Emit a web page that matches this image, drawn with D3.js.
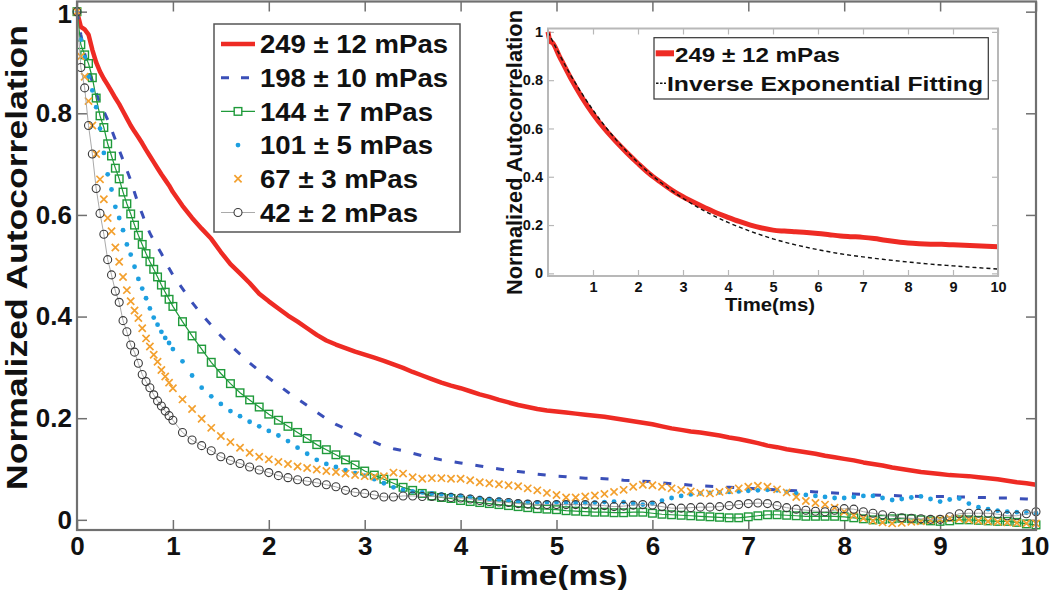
<!DOCTYPE html>
<html><head><meta charset="utf-8">
<script src="https://cdn.jsdelivr.net/npm/d3@7"></script>
<style>
body{margin:0;background:#fff}
svg{display:block}
text{font-family:"Liberation Sans",Arial,Helvetica,sans-serif;font-weight:bold;fill:#111}
</style>
</head><body>
<svg id="c" width="1050" height="590"></svg>
<script>
// ---------- DATA ----------
const time = [0,0.04,0.08,0.12,0.16,0.2,0.24,0.28,0.32,0.36,0.4,0.44,0.48,0.52,0.56,0.6,0.64,0.68,0.72,0.76,0.8,0.84,0.88,0.92,0.96,1.0,
1.1,1.2,1.3,1.4,1.5,1.6,1.7,1.8,1.9,2.0,
2.1,2.2,2.3,2.4,2.5,2.6,2.7,2.8,2.9,3.0,
3.1,3.2,3.3,3.4,3.5,3.6,3.7,3.8,3.9,4.0,
4.1,4.2,4.3,4.4,4.5,4.6,4.7,4.8,4.9,5.0,
5.1,5.2,5.3,5.4,5.5,5.6,5.7,5.8,5.9,6.0,
6.1,6.2,6.3,6.4,6.5,6.6,6.7,6.8,6.9,7.0,
7.1,7.2,7.3,7.4,7.5,7.6,7.7,7.8,7.9,8.0,
8.1,8.2,8.3,8.4,8.5,8.6,8.7,8.8,8.9,9.0,
9.1,9.2,9.3,9.4,9.5,9.6,9.7,9.8,9.9,10.0];

const v249 = [1.000,0.970,0.965,0.955,0.925,0.900,0.882,0.868,0.856,0.843,0.830,0.818,0.804,0.790,0.776,0.764,0.753,0.741,0.728,0.716,0.704,0.692,0.680,0.669,0.658,0.645,
0.618,0.594,0.573,0.553,0.527,0.503,0.485,0.466,0.445,0.430,
0.416,0.402,0.390,0.377,0.364,0.353,0.345,0.338,0.331,0.325,
0.319,0.313,0.306,0.299,0.291,0.284,0.277,0.270,0.264,0.259,
0.253,0.247,0.242,0.236,0.231,0.226,0.222,0.218,0.215,0.213,
0.211,0.209,0.207,0.205,0.203,0.200,0.197,0.194,0.191,0.188,
0.184,0.180,0.177,0.174,0.172,0.169,0.166,0.162,0.159,0.155,
0.151,0.146,0.143,0.139,0.136,0.133,0.130,0.126,0.123,0.120,
0.117,0.113,0.110,0.107,0.103,0.100,0.097,0.094,0.092,0.090,
0.088,0.087,0.086,0.084,0.082,0.080,0.077,0.074,0.072,0.069];

const v198 = [1.000,0.955,0.918,0.888,0.862,0.840,0.820,0.804,0.787,0.768,0.748,0.728,0.708,0.688,0.668,0.644,0.621,0.602,0.582,0.564,0.550,0.537,0.524,0.510,0.495,0.482,
0.455,0.428,0.404,0.383,0.362,0.343,0.326,0.309,0.293,0.279,
0.265,0.251,0.238,0.225,0.212,0.199,0.188,0.179,0.170,0.161,
0.153,0.145,0.140,0.136,0.131,0.126,0.122,0.118,0.115,0.112,
0.109,0.106,0.103,0.100,0.097,0.095,0.093,0.090,0.088,0.086,
0.085,0.083,0.082,0.082,0.081,0.080,0.078,0.077,0.076,0.075,
0.073,0.071,0.070,0.068,0.067,0.066,0.065,0.064,0.063,0.062,
0.061,0.060,0.059,0.058,0.057,0.056,0.055,0.054,0.053,0.052,
0.051,0.050,0.049,0.048,0.048,0.047,0.047,0.046,0.046,0.046,
0.046,0.045,0.045,0.044,0.044,0.043,0.043,0.042,0.041,0.040];

const v144 = [1.000,0.935,0.915,0.898,0.870,0.830,0.795,0.772,0.740,0.716,0.692,0.671,0.645,0.622,0.602,0.580,0.560,0.542,0.524,0.508,0.493,0.478,0.462,0.448,0.434,0.420,
0.390,0.362,0.336,0.310,0.288,0.268,0.250,0.236,0.222,0.208,
0.196,0.184,0.172,0.160,0.148,0.138,0.128,0.118,0.108,0.096,
0.088,0.080,0.072,0.064,0.058,0.052,0.047,0.044,0.042,0.038,
0.036,0.034,0.032,0.030,0.028,0.026,0.024,0.022,0.021,0.020,
0.018,0.017,0.016,0.015,0.015,0.014,0.014,0.015,0.015,0.013,
0.011,0.010,0.009,0.008,0.007,0.006,0.005,0.004,0.004,0.006,
0.008,0.010,0.010,0.009,0.008,0.007,0.007,0.007,0.007,0.006,
0.004,0.002,0.000,0.001,0.002,0.003,0.002,0.000,-0.002,-0.003,
-0.002,0.000,0.000,-0.001,-0.002,-0.003,-0.003,-0.005,-0.008,-0.010];

const v101 = [1.000,0.945,0.910,0.872,0.845,0.812,0.770,0.722,0.680,0.650,0.616,0.594,0.570,0.542,0.522,0.498,0.474,0.455,0.436,0.416,0.398,0.384,0.370,0.358,0.348,0.336,
0.312,0.284,0.260,0.243,0.228,0.214,0.204,0.193,0.184,0.175,
0.166,0.155,0.142,0.130,0.118,0.110,0.104,0.098,0.092,0.087,
0.080,0.072,0.064,0.059,0.056,0.054,0.052,0.050,0.049,0.047,
0.045,0.043,0.041,0.040,0.038,0.036,0.035,0.034,0.034,0.034,
0.033,0.033,0.033,0.034,0.035,0.036,0.035,0.032,0.030,0.032,
0.038,0.043,0.047,0.050,0.052,0.053,0.054,0.055,0.056,0.057,
0.058,0.059,0.058,0.055,0.052,0.049,0.047,0.045,0.043,0.043,
0.045,0.047,0.047,0.043,0.039,0.041,0.044,0.046,0.041,0.036,
0.040,0.042,0.032,0.025,0.021,0.018,0.016,0.015,0.014,0.013];

const v67 = [1.000,0.912,0.872,0.824,0.776,0.720,0.670,0.631,0.594,0.568,0.536,0.508,0.478,0.452,0.430,0.412,0.397,0.377,0.357,0.341,0.325,0.311,0.295,0.282,0.270,0.259,
0.237,0.218,0.199,0.181,0.165,0.153,0.142,0.132,0.124,0.119,
0.114,0.110,0.105,0.102,0.099,0.096,0.094,0.091,0.088,0.086,
0.085,0.086,0.093,0.091,0.084,0.081,0.082,0.082,0.081,0.081,
0.078,0.074,0.072,0.070,0.068,0.066,0.062,0.058,0.053,0.049,
0.044,0.044,0.046,0.048,0.051,0.055,0.059,0.065,0.069,0.068,
0.065,0.062,0.059,0.056,0.053,0.052,0.055,0.058,0.062,0.065,
0.067,0.065,0.060,0.054,0.045,0.037,0.033,0.030,0.024,0.016,
0.009,0.003,-0.002,-0.005,-0.007,-0.006,-0.004,-0.003,-0.001,0.001,
0.003,0.002,0.000,-0.002,-0.003,-0.004,-0.005,-0.006,-0.007,-0.007];

const v42 = [1.000,0.890,0.850,0.776,0.720,0.652,0.603,0.562,0.512,0.482,0.450,0.428,0.392,0.370,0.344,0.330,0.308,0.286,0.272,0.260,0.246,0.234,0.224,0.214,0.205,0.196,
0.172,0.157,0.146,0.136,0.124,0.117,0.111,0.104,0.098,0.093,
0.087,0.083,0.079,0.076,0.073,0.069,0.065,0.058,0.054,0.052,
0.049,0.045,0.045,0.047,0.047,0.046,0.046,0.045,0.044,0.043,
0.041,0.038,0.036,0.035,0.034,0.032,0.031,0.030,0.030,0.030,
0.030,0.030,0.030,0.029,0.028,0.026,0.027,0.029,0.030,0.029,
0.026,0.023,0.023,0.024,0.025,0.025,0.026,0.028,0.030,0.032,
0.033,0.032,0.028,0.024,0.021,0.019,0.017,0.016,0.019,0.022,
0.021,0.016,0.013,0.010,0.007,0.004,0.003,0.002,0.001,0.001,
0.006,0.012,0.013,0.013,0.013,0.011,0.008,0.008,0.012,0.016];

const legendLabels = ["249 \u00B1 12 mPas","198 \u00B1 10 mPas","144 \u00B1 7 mPas","101 \u00B1 5 mPas","67 \u00B1 3 mPas","42 \u00B1 2 mPas"];

// inset data
const insetTime = [0,0.05,0.1,0.25,0.5,0.75,1,1.25,1.5,1.75,2,2.25,2.5,2.75,3,3.25,3.5,3.75,4,4.25,4.5,4.75,5,5.25,5.5,5.75,6,6.25,6.5,6.75,7,7.25,7.5,7.75,8,8.25,8.5,8.75,9,9.25,9.5,9.75,10];
const insetV249 = [1.0,0.960,0.955,0.900,0.810,0.730,0.660,0.600,0.548,0.500,0.455,0.413,0.378,0.345,0.317,0.293,0.271,0.250,0.232,0.215,0.200,0.188,0.179,0.175,0.172,0.169,0.165,0.160,0.155,0.152,0.149,0.144,0.137,0.131,0.126,0.123,0.121,0.120,0.118,0.116,0.114,0.112,0.110];
const fitTime = [0,0.5,1,1.5,2,2.5,3,3.5,4,4.5,5,5.5,6,6.5,7,7.5,8,8.5,9,9.5,10];
const fitV = [1.0,0.822,0.676,0.556,0.458,0.377,0.311,0.256,0.211,0.174,0.143,0.118,0.098,0.081,0.068,0.057,0.047,0.038,0.031,0.024,0.018];
const insetLegendLabels = ["249 \u00B1 12 mPas","Inverse Exponential Fitting"];

const xTicks = [0,1,2,3,4,5,6,7,8,9,10];
const yTicks = [0,0.2,0.4,0.6,0.8,1];
const insetXTicks = [1,2,3,4,5,6,7,8,9,10];

// ---------- DRAW ----------
const svg = d3.select("#c");
const fmtY = d => d === 0 ? "0" : (d === 1 ? "1" : d3.format(".1f")(d));

// main scales
const x = d3.scaleLinear().domain([0,10]).range([77,1036]);
const y = d3.scaleLinear().domain([-0.02,1.02]).range([530,1.5]);
const axisCol = "#707070";

const main = svg.append("g");
main.append("rect").attr("x",x.range()[0]).attr("y",y.range()[1])
  .attr("width",x.range()[1]-x.range()[0]).attr("height",y.range()[0]-y.range()[1])
  .attr("fill","#fff");

function styleAxis(g, fs){
  g.select(".domain").remove();
  g.selectAll(".tick line").attr("stroke",axisCol).attr("stroke-width",1.5);
  g.selectAll(".tick text").attr("font-size",fs).attr("fill","#111")
   .attr("font-family",'"Liberation Sans",Arial,sans-serif').attr("font-weight","bold");
}
main.append("g").attr("transform",`translate(0,${y.range()[0]})`)
  .call(d3.axisBottom(x).tickValues(xTicks).tickFormat(d3.format("d")).tickSizeInner(-10).tickSizeOuter(0).tickPadding(7))
  .call(g=>styleAxis(g,26))
  .call(g=>g.selectAll(".tick text").filter(d=>d===10).attr("dx",-1.5));
main.append("g").attr("transform",`translate(${x.range()[0]},0)`)
  .call(d3.axisLeft(y).tickValues(yTicks).tickFormat(fmtY).tickSizeInner(-10).tickSizeOuter(0).tickPadding(5))
  .call(g=>styleAxis(g,26))
  .call(g=>g.selectAll(".tick text").filter(d=>d===1).attr("dy","0.42em"));
main.append("g").attr("transform",`translate(0,${y.range()[1]})`)
  .call(d3.axisTop(x).tickValues(xTicks).tickFormat("").tickSizeInner(-10).tickSizeOuter(0))
  .call(g=>styleAxis(g,10));
main.append("g").attr("transform",`translate(${x.range()[1]},0)`)
  .call(d3.axisRight(y).tickValues(yTicks).tickFormat("").tickSizeInner(-10).tickSizeOuter(0))
  .call(g=>styleAxis(g,10));

// series
const pts = vals => time.map((t,i)=>[t,vals[i]]);
const line = d3.line().x(d=>x(d[0])).y(d=>y(d[1]));
const plot = main.append("g");

plot.append("path").datum(pts(v249)).attr("d",line).attr("fill","none")
  .attr("stroke","#ee2b24").attr("stroke-width",4.5).attr("stroke-linejoin","round");

plot.append("path").datum(pts(v198)).attr("d",line).attr("fill","none")
  .attr("stroke","#3a4fb8").attr("stroke-width",3).attr("stroke-dasharray","8,13");

plot.append("path").datum(pts(v144)).attr("d",line).attr("fill","none")
  .attr("stroke","#1f9a3a").attr("stroke-width",1.2);
plot.append("g").selectAll("rect").data(pts(v144)).join("rect")
  .attr("x",d=>x(d[0])-3.8).attr("y",d=>y(d[1])-3.8).attr("width",7.6).attr("height",7.6)
  .attr("fill","none").attr("stroke","#1f9a3a").attr("stroke-width",1.4);

plot.append("g").selectAll("circle").data(pts(v101)).join("circle")
  .attr("cx",d=>x(d[0])).attr("cy",d=>y(d[1])).attr("r",2.4).attr("fill","#1d9fe0");

const xMark = "M-3.6,-3.6L3.6,3.6M-3.6,3.6L3.6,-3.6";
plot.append("g").selectAll("path").data(pts(v67)).join("path")
  .attr("d",xMark).attr("transform",d=>`translate(${x(d[0])},${y(d[1])})`)
  .attr("fill","none").attr("stroke","#f3a02e").attr("stroke-width",1.7);

plot.append("path").datum(pts(v42)).attr("d",line).attr("fill","none")
  .attr("stroke","#aaaaaa").attr("stroke-width",1);
plot.append("g").selectAll("circle").data(pts(v42)).join("circle")
  .attr("cx",d=>x(d[0])).attr("cy",d=>y(d[1])).attr("r",4)
  .attr("fill","none").attr("stroke","#3a3a3a").attr("stroke-width",1.1);

// main box
main.append("rect").attr("x",x.range()[0]).attr("y",y.range()[1])
  .attr("width",x.range()[1]-x.range()[0]).attr("height",y.range()[0]-y.range()[1])
  .attr("fill","none").attr("stroke",axisCol).attr("stroke-width",2.2);

// axis titles
svg.append("text").attr("x",554).attr("y",585).attr("text-anchor","middle")
  .attr("font-size",28.5).attr("textLength",148).attr("lengthAdjust","spacingAndGlyphs").text("Time(ms)");
svg.append("text").attr("transform","translate(27,257.5) rotate(-90)").attr("text-anchor","middle")
  .attr("font-size",30).attr("textLength",465).attr("lengthAdjust","spacingAndGlyphs").text("Normalized Autocorrelation");

// main legend
const lg = svg.append("g");
lg.append("rect").attr("x",214).attr("y",24).attr("width",246).attr("height",208)
  .attr("fill","#fff").attr("stroke","#555").attr("stroke-width",1.5);
const rowY = i => 44 + i*33.7;
const textW = [188,188,173,173,158,158];
legendLabels.forEach((lab,i)=>{
  lg.append("text").attr("x",260).attr("y",rowY(i)+9.3).attr("font-size",26)
    .attr("textLength",textW[i]).attr("lengthAdjust","spacingAndGlyphs").text(lab);
});
lg.append("line").attr("x1",221).attr("x2",255).attr("y1",rowY(0)).attr("y2",rowY(0))
  .attr("stroke","#ee2b24").attr("stroke-width",4.5);
lg.append("line").attr("x1",221).attr("x2",250).attr("y1",rowY(1)).attr("y2",rowY(1))
  .attr("stroke","#3a4fb8").attr("stroke-width",3).attr("stroke-dasharray","8,12");
lg.append("line").attr("x1",221).attr("x2",255).attr("y1",rowY(2)).attr("y2",rowY(2))
  .attr("stroke","#1f9a3a").attr("stroke-width",1.2);
lg.append("rect").attr("x",238-3.8).attr("y",rowY(2)-3.8).attr("width",7.6).attr("height",7.6)
  .attr("fill","#fff").attr("stroke","#1f9a3a").attr("stroke-width",1.4);
lg.append("circle").attr("cx",238).attr("cy",rowY(3)).attr("r",2.4).attr("fill","#1d9fe0");
lg.append("path").attr("d",xMark).attr("transform",`translate(238,${rowY(4)})`)
  .attr("stroke","#f3a02e").attr("stroke-width",1.7);
lg.append("line").attr("x1",221).attr("x2",255).attr("y1",rowY(5)).attr("y2",rowY(5))
  .attr("stroke","#aaaaaa").attr("stroke-width",1);
lg.append("circle").attr("cx",238).attr("cy",rowY(5)).attr("r",4)
  .attr("fill","#fff").attr("stroke","#3a3a3a").attr("stroke-width",1.1);

// ---------- INSET ----------
const xi = d3.scaleLinear().domain([0,10]).range([548,998]);
const yi = d3.scaleLinear().domain([-0.011,1.014]).range([276,28.5]);
const inCol = "#b8b8b8";
const ins = svg.append("g");
ins.append("rect").attr("x",xi.range()[0]).attr("y",yi.range()[1])
  .attr("width",xi.range()[1]-xi.range()[0]).attr("height",yi.range()[0]-yi.range()[1]).attr("fill","#fff");

function styleIn(g){
  g.select(".domain").remove();
  g.selectAll(".tick line").attr("stroke",inCol).attr("stroke-width",1.2);
  g.selectAll(".tick text").attr("font-size",14.5).attr("fill","#222")
   .attr("font-family",'"Liberation Sans",Arial,sans-serif').attr("font-weight","bold");
}
ins.append("g").attr("transform",`translate(0,${yi.range()[0]})`)
  .call(d3.axisBottom(xi).tickValues(insetXTicks).tickFormat(d3.format("d")).tickSizeInner(-6).tickSizeOuter(0).tickPadding(6))
  .call(styleIn);
ins.append("g").attr("transform",`translate(${xi.range()[0]},0)`)
  .call(d3.axisLeft(yi).tickValues(yTicks).tickFormat(fmtY).tickSizeInner(-6).tickSizeOuter(0).tickPadding(5))
  .call(styleIn);
ins.append("g").attr("transform",`translate(0,${yi.range()[1]})`)
  .call(d3.axisTop(xi).tickValues(insetXTicks).tickFormat("").tickSizeInner(-6).tickSizeOuter(0))
  .call(styleIn);
ins.append("g").attr("transform",`translate(${xi.range()[1]},0)`)
  .call(d3.axisRight(yi).tickValues(yTicks).tickFormat("").tickSizeInner(-6).tickSizeOuter(0))
  .call(styleIn);

const lineI = d3.line().x(d=>xi(d[0])).y(d=>yi(d[1])).curve(d3.curveMonotoneX);
ins.append("path").datum(insetTime.map((t,i)=>[t,insetV249[i]])).attr("d",lineI)
  .attr("fill","none").attr("stroke","#ee2b24").attr("stroke-width",5).attr("stroke-linejoin","round");
ins.append("path").datum(fitTime.map((t,i)=>[t,fitV[i]])).attr("d",lineI)
  .attr("fill","none").attr("stroke","#111").attr("stroke-width",1.4).attr("stroke-dasharray","4,3");

ins.append("rect").attr("x",xi.range()[0]).attr("y",yi.range()[1])
  .attr("width",xi.range()[1]-xi.range()[0]).attr("height",yi.range()[0]-yi.range()[1])
  .attr("fill","none").attr("stroke",inCol).attr("stroke-width",2);

svg.append("text").attr("x",770).attr("y",311).attr("text-anchor","middle")
  .attr("font-size",19).attr("textLength",90).attr("lengthAdjust","spacingAndGlyphs").text("Time(ms)");
svg.append("text").attr("transform","translate(521.7,152.5) rotate(-90)").attr("text-anchor","middle")
  .attr("font-size",22).attr("textLength",285).attr("lengthAdjust","spacingAndGlyphs").text("Normalized Autocorrelation");

// inset legend
const il = svg.append("g");
il.append("rect").attr("x",654).attr("y",37.7).attr("width",334.3).attr("height",61.3)
  .attr("fill","#fff").attr("stroke","#333").attr("stroke-width",1.2);
il.append("line").attr("x1",655.7).attr("x2",674).attr("y1",53.3).attr("y2",53.3)
  .attr("stroke","#ee2b24").attr("stroke-width",6);
il.append("text").attr("x",675).attr("y",61.7).attr("font-size",21)
  .attr("textLength",165).attr("lengthAdjust","spacingAndGlyphs").text(insetLegendLabels[0]);
il.append("line").attr("x1",656).attr("x2",666).attr("y1",83.3).attr("y2",83.3)
  .attr("stroke","#111").attr("stroke-width",1.4).attr("stroke-dasharray","2.5,1.5");
il.append("text").attr("x",667).attr("y",90.7).attr("font-size",21)
  .attr("textLength",316).attr("lengthAdjust","spacingAndGlyphs").text(insetLegendLabels[1]);
</script>
</body></html>
